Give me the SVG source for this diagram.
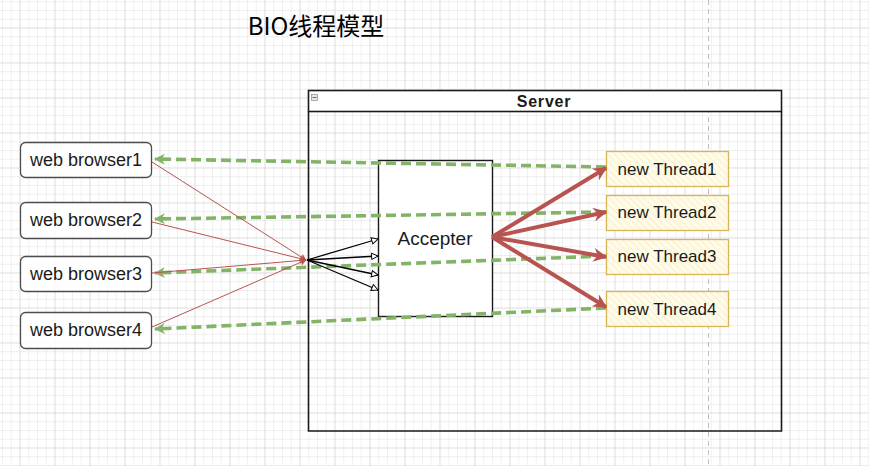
<svg xmlns="http://www.w3.org/2000/svg" width="869" height="466" viewBox="0 0 869 466">
<style>
.lbl{font-family:"Liberation Sans",Arial,sans-serif;fill:#1a1a1a;text-anchor:middle;dominant-baseline:central}
.browser{fill:#ffffff;fill-opacity:0.85;stroke:#4d4d4d;stroke-width:1.3}
.thread{fill:url(#hatch);stroke:#d6b656;stroke-width:1.3}
.green{fill:none;stroke:#82b366;stroke-width:3.6;stroke-dasharray:10 5;marker-end:url(#mGreen)}
.redthick{fill:none;stroke:#b85450;stroke-width:4;marker-end:url(#mRedBig)}
.redthin{fill:none;stroke:#b85450;stroke-width:1;marker-end:url(#mRedSmall)}
.black{fill:none;stroke:#000;stroke-width:1.3;marker-end:url(#mOpen)}
</style>
<defs>
<pattern id="minor" x="19.5" y="27.5" width="8.75" height="8.75" patternUnits="userSpaceOnUse">
<path d="M0,0 H8.75 M0,0 V8.75" stroke="#e9e9e9" stroke-width="1.3" fill="none"/>
</pattern>
<pattern id="major" x="19.5" y="27.5" width="35" height="35" patternUnits="userSpaceOnUse">
<path d="M0,0 H35 M0,0 V35" stroke="#d6d6d6" stroke-width="1.2" fill="none"/>
</pattern>
<pattern id="hatch" width="5" height="5" patternUnits="userSpaceOnUse" patternTransform="rotate(-45)">
<rect width="5" height="5" fill="#fffbea"/>
<line x1="0" y1="0" x2="0" y2="5" stroke="#f9e7ad" stroke-width="1.2"/>
</pattern>
<marker id="mGreen" viewBox="0 0 10 10" refX="9" refY="5" markerWidth="11" markerHeight="11" markerUnits="userSpaceOnUse" orient="auto">
<path d="M0,0 L10,5 L0,10 L3,5 z" fill="#82b366"/>
</marker>
<marker id="mRedBig" viewBox="0 0 10 10" refX="9" refY="5" markerWidth="14" markerHeight="14" markerUnits="userSpaceOnUse" orient="auto">
<path d="M0,0 L10,5 L0,10 L3,5 z" fill="#b85450"/>
</marker>
<marker id="mRedSmall" viewBox="0 0 10 10" refX="9" refY="5" markerWidth="7" markerHeight="7" markerUnits="userSpaceOnUse" orient="auto">
<path d="M0,0 L10,5 L0,10 L3,5 z" fill="#b85450"/>
</marker>
<marker id="mOpen" viewBox="0 0 10 10" refX="9" refY="5" markerWidth="8" markerHeight="8" markerUnits="userSpaceOnUse" orient="auto">
<path d="M1,1 L9,5 L1,9 z" fill="#ffffff" stroke="#000" stroke-width="1.2"/>
</marker>
</defs>

<g id="background">
<rect width="869" height="466" fill="#ffffff"/>
<rect width="869" height="466" fill="url(#minor)"/>
<rect width="869" height="466" fill="url(#major)"/>
<line x1="708.5" y1="0" x2="708.5" y2="466" stroke="#bdbdbd" stroke-width="1" stroke-dasharray="5 4"/>
</g>

<g id="title">
<text x="316" y="24" font-family="'Noto Sans CJK SC','Liberation Sans',sans-serif" font-size="24" fill="#000" text-anchor="middle" dominant-baseline="central">BIO线程模型</text>
</g>

<g id="server">
<rect x="308.5" y="90.5" width="473" height="21" fill="#ffffff" stroke="#1a1a1a" stroke-width="1.6"/>
<path d="M308.5,111.5 V431 H781.5 V111.5" fill="none" stroke="#1a1a1a" stroke-width="1.6"/>
<rect x="311.5" y="94.5" width="6" height="6" fill="#e6e6e6" stroke="#999" stroke-width="0.8"/>
<line x1="312.5" y1="97.5" x2="316.5" y2="97.5" stroke="#555" stroke-width="0.8"/>
<text class="lbl" x="544" y="101" font-size="16" font-weight="bold" letter-spacing="0.8">Server</text>
</g>

<g id="accepter">
<rect x="378.5" y="160.5" width="114" height="156" fill="#ffffff" stroke="#1a1a1a" stroke-width="1.4"/>
<text class="lbl" x="435" y="238" font-size="19">Accepter</text>
</g>

<g id="thread1">
<rect class="thread" x="606.5" y="151.5" width="122" height="35"/>
<text class="lbl" x="667" y="169" font-size="17">new Thread1</text>
</g>
<g id="thread2">
<rect class="thread" x="606.5" y="195.5" width="122" height="35"/>
<text class="lbl" x="667" y="212" font-size="17">new Thread2</text>
</g>
<g id="thread3">
<rect class="thread" x="606.5" y="239.5" width="122" height="35"/>
<text class="lbl" x="667" y="256" font-size="17">new Thread3</text>
</g>
<g id="thread4">
<rect class="thread" x="606.5" y="291.5" width="122" height="35"/>
<text class="lbl" x="667" y="309" font-size="17">new Thread4</text>
</g>

<g id="browser1">
<rect class="browser" x="20.5" y="142.5" width="131" height="35" rx="5"/>
<text class="lbl" x="86" y="160" font-size="18">web browser1</text>
</g>
<g id="browser2">
<rect class="browser" x="20.5" y="202.5" width="131" height="36" rx="5"/>
<text class="lbl" x="86" y="220" font-size="18">web browser2</text>
</g>
<g id="browser3">
<rect class="browser" x="20.5" y="256.5" width="131" height="35" rx="5"/>
<text class="lbl" x="86" y="274" font-size="18">web browser3</text>
</g>
<g id="browser4">
<rect class="browser" x="20.5" y="312.5" width="131" height="36" rx="5"/>
<text class="lbl" x="86" y="330" font-size="18">web browser4</text>
</g>

<g id="connectors">
<path class="green" d="M606,167 L155,159"/>
<path class="green" d="M606,212 L155,219"/>
<path class="green" d="M606,256 L155,273"/>
<path class="green" d="M606,308 L155,329"/>

<path class="redthin" d="M152,162 L306,260"/>
<path class="redthin" d="M152,222 L306,260"/>
<path class="redthin" d="M152,273 L306,260"/>
<path class="redthin" d="M152,327 L306,260"/>

<path class="black" d="M307,260 L378,239"/>
<path class="black" d="M307,260 L378,256"/>
<path class="black" d="M307,260 L378,275"/>
<path class="black" d="M307,260 L378,290"/>

<path class="redthick" d="M492,237 L606,168"/>
<path class="redthick" d="M492,237 L606,212"/>
<path class="redthick" d="M492,237 L606,257"/>
<path class="redthick" d="M492,237 L606,307"/>
</g>
</svg>
